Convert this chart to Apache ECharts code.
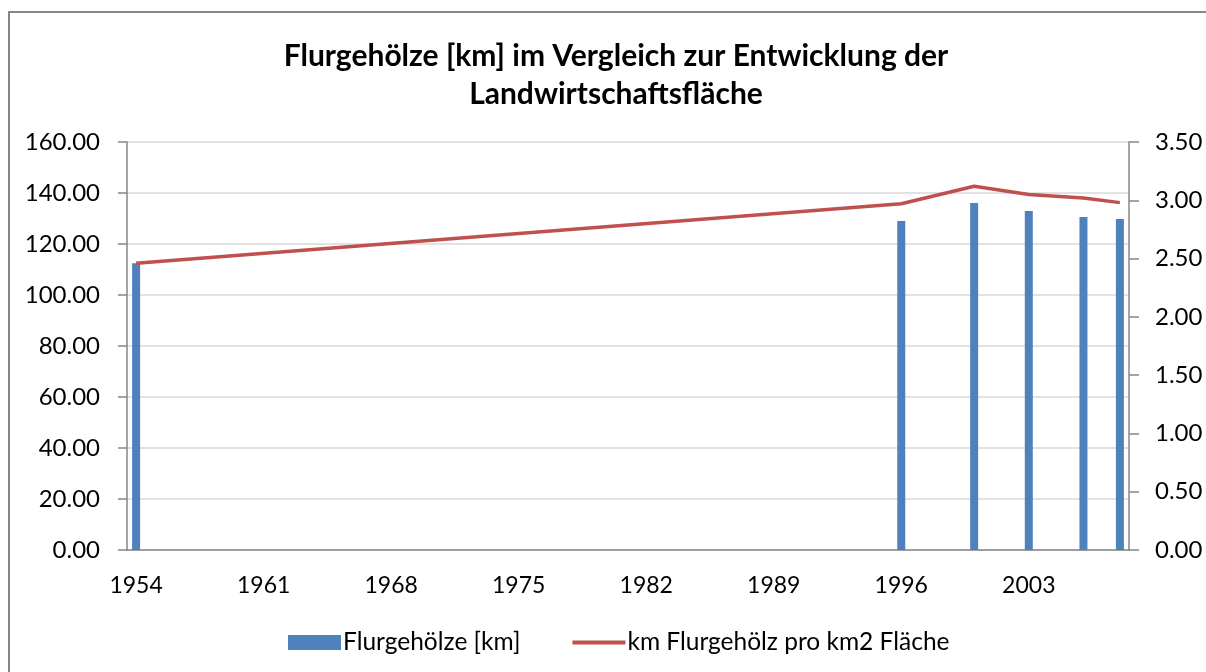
<!DOCTYPE html>
<html>
<head>
    <meta charset="utf-8">
    <title>Flurgehölze</title>
    <script src="https://cdn.jsdelivr.net/npm/echarts@6/dist/echarts.min.js"></script>
    <style>
        html, body { margin: 0; padding: 0; background: #fff; }
        #main { width: 1206px; height: 672px; }
    </style>
</head>
<body>
<div id="main"></div>
<script>
    // Messjahre und Werte
    var years = [1954, 1996, 2000, 2003, 2006, 2008];
    var flurgehoelze = [112.5, 129.0, 136.1, 132.9, 130.6, 129.8];
    var proFlaeche = [2.46, 2.97, 3.12, 3.05, 3.02, 2.98];

    var firstYear = 1954, lastYear = 2008;
    var leftTicks = [0, 160, 20];
    var rightTicks = [0, 3.5, 0.5];

    // Datumsachse wie in Excel: ein Slot pro Jahr
    var allYears = [];
    for (var y = firstYear; y <= lastYear; y++) allYears.push(String(y));
    var barData = allYears.map(function () { return null; });
    var lineData = allYears.map(function () { return null; });
    years.forEach(function (yr, i) {
        barData[yr - firstYear] = flurgehoelze[i];
        lineData[yr - firstYear] = proFlaeche[i];
    });

    var font = 'Lato';
    var axisColor = '#868686';

    var myChart = echarts.init(document.getElementById('main'));
    var option = {
        backgroundColor: '#fff',
        animation: false,
        textStyle: { fontFamily: font },
        title: {
            text: 'Flurgehölze [km] im Vergleich zur Entwicklung der\nLandwirtschaftsfläche',
            left: 611,
            top: 32,
            textAlign: 'center',
            textStyle: {
                fontFamily: font,
                fontWeight: 'bold',
                fontSize: 30,
                lineHeight: 38,
                color: '#000'
            }
        },
        graphic: [{
            type: 'rect',
            shape: { x: 9, y: 12, width: 1400, height: 900 },
            style: { fill: 'none', stroke: axisColor, lineWidth: 2 },
            silent: true
        }],
        legend: {
            left: 283,
            top: 625,
            itemWidth: 53,
            itemHeight: 15,
            itemGap: 52,
            symbolKeepAspect: true,
            textStyle: { fontFamily: font, fontSize: 24.5, color: '#000', padding: [0, 0, 0, -3] },
            data: [
                { name: 'Flurgehölze [km]', icon: 'rect' },
                { name: 'km Flurgehölz pro km2 Fläche', icon: 'path://M0,0H53V4H0Z' }
            ]
        },
        grid: {
            left: 127,
            right: 77,
            top: 142,
            bottom: 122
        },
        xAxis: {
            type: 'category',
            data: allYears,
            boundaryGap: true,
            axisLine: { lineStyle: { color: axisColor, width: 1.5 } },
            axisTick: { interval: 6, length: 8, alignWithLabel: false, lineStyle: { color: axisColor, width: 1.5 } },
            axisLabel: { interval: 6, margin: 24, fontSize: 23, color: '#000', fontFamily: font },
            splitLine: { show: false }
        },
        yAxis: [{
            type: 'value',
            min: leftTicks[0],
            max: leftTicks[1],
            interval: leftTicks[2],
            axisLine: { show: true, lineStyle: { color: axisColor, width: 1.5 } },
            axisTick: { show: true, length: 9, lineStyle: { color: axisColor, width: 1.5 } },
            axisLabel: {
                margin: 27, fontSize: 24, color: '#000', fontFamily: font,
                formatter: function (v) { return v.toFixed(2); }
            },
            splitLine: { show: true, lineStyle: { color: '#D9D9D9', width: 1.5 } }
        }, {
            type: 'value',
            min: rightTicks[0],
            max: rightTicks[1],
            interval: rightTicks[2],
            position: 'right',
            axisLine: { show: true, lineStyle: { color: axisColor, width: 1.5 } },
            axisTick: { show: true, length: 10, lineStyle: { color: axisColor, width: 1.5 } },
            axisLabel: {
                margin: 26, fontSize: 24, color: '#000', fontFamily: font,
                formatter: function (v) { return v.toFixed(2); }
            },
            splitLine: { show: false }
        }],
        series: [{
            name: 'Flurgehölze [km]',
            type: 'bar',
            data: barData,
            barWidth: 8,
            itemStyle: { color: '#4F81BD' }
        }, {
            name: 'km Flurgehölz pro km2 Fläche',
            type: 'line',
            yAxisIndex: 1,
            data: lineData,
            connectNulls: true,
            symbol: 'none',
            lineStyle: { color: '#C0504D', width: 3.5 },
            itemStyle: { color: '#C0504D' }
        }]
    };
    myChart.setOption(option);
</script>
</body>
</html>
